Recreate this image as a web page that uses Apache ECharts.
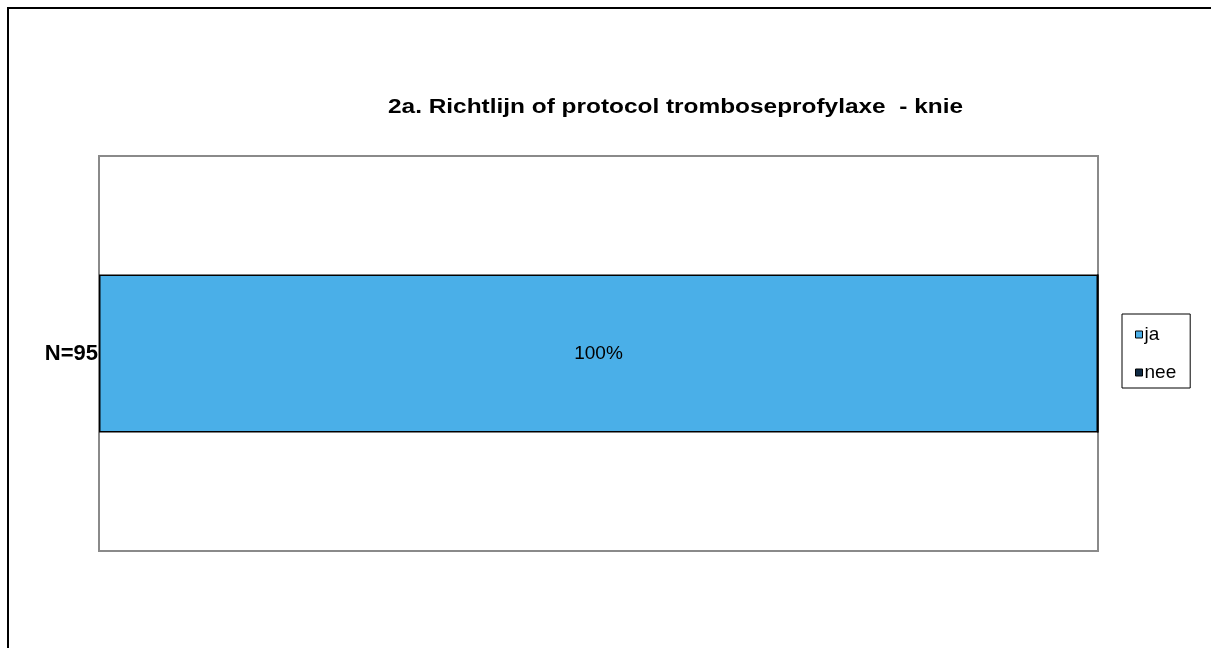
<!DOCTYPE html>
<html>
<head>
<meta charset="utf-8">
<script src="https://cdn.jsdelivr.net/npm/echarts@6/dist/echarts.min.js"></script>
<style>
html,body{margin:0;padding:0;background:#fff;}
#chart{width:1211px;height:648px;}
</style>
</head>
<body>
<div id="chart"></div>
<script>
const titleText = '2a. Richtlijn of protocol tromboseprofylaxe  - knie';
const categories = ['N=95'];
const seriesNames = ['ja', 'nee'];
const jaValues = [100];
const neeValues = [0];
const colors = ['#4AAFE8', '#0F2A44'];

const fontFam = '"Liberation Sans", Arial, sans-serif';
const titleFont = 'bold 20px ' + fontFam;
const mctx = document.createElement('canvas').getContext('2d');
mctx.font = titleFont;
const titleNatural = mctx.measureText(titleText).width;
const titleLeft = 388, titleRight = 963;
const titleScale = (titleRight - titleLeft) / titleNatural;

const chart = echarts.init(document.getElementById('chart'), null, {renderer: 'canvas'});
chart.setOption({
  animation: false,
  backgroundColor: '#fff',
  graphic: [{
    type: 'rect',
    shape: {x: 8, y: 8, width: 1400, height: 1000},
    style: {fill: null, stroke: '#000', lineWidth: 2},
    silent: true
  }, {
    type: 'text',
    x: titleLeft, y: 107,
    scaleX: titleScale,
    originX: 0,
    style: {
      text: titleText, font: titleFont, fill: '#000',
      textAlign: 'left', textVerticalAlign: 'middle', verticalAlign: 'middle'
    },
    silent: true
  }],
  legend: {
    orient: 'vertical',
    left: 1122,
    top: 314,
    data: seriesNames,
    icon: 'rect',
    itemWidth: 7,
    itemHeight: 7,
    itemGap: 19,
    padding: [11, 14, 6, 13],
    borderColor: '#000',
    borderWidth: 1,
    textStyle: {fontFamily: fontFam, fontSize: 19, color: '#000', padding: [0, 0, 0, -3]},
    itemStyle: {borderColor: '#000', borderWidth: 1}
  },
  grid: {
    left: 99, right: 113, top: 156, bottom: 97,
    show: true, borderColor: '#8a8a8a', borderWidth: 2, backgroundColor: '#fff'
  },
  xAxis: {
    type: 'value', min: 0, max: 100,
    axisLabel: {show: false}, axisLine: {show: false}, axisTick: {show: false}, splitLine: {show: false}
  },
  yAxis: {
    type: 'category', data: categories,
    axisLine: {show: false}, axisTick: {show: false},
    axisLabel: {fontFamily: fontFam, fontSize: 22, fontWeight: 'bold', color: '#000', margin: 1}
  },
  series: [{
    name: seriesNames[0], type: 'bar', stack: 'total', data: jaValues,
    barWidth: '40%',
    itemStyle: {color: colors[0], borderColor: '#000', borderWidth: 1.5},
    label: {show: true, position: 'inside', formatter: '{c}%', fontFamily: fontFam, fontSize: 19, color: '#000'}
  }, {
    name: seriesNames[1], type: 'bar', stack: 'total', data: neeValues,
    barWidth: '40%',
    itemStyle: {color: colors[1], borderColor: '#000', borderWidth: 1},
    label: {show: false}
  }]
});
</script>
</body>
</html>
